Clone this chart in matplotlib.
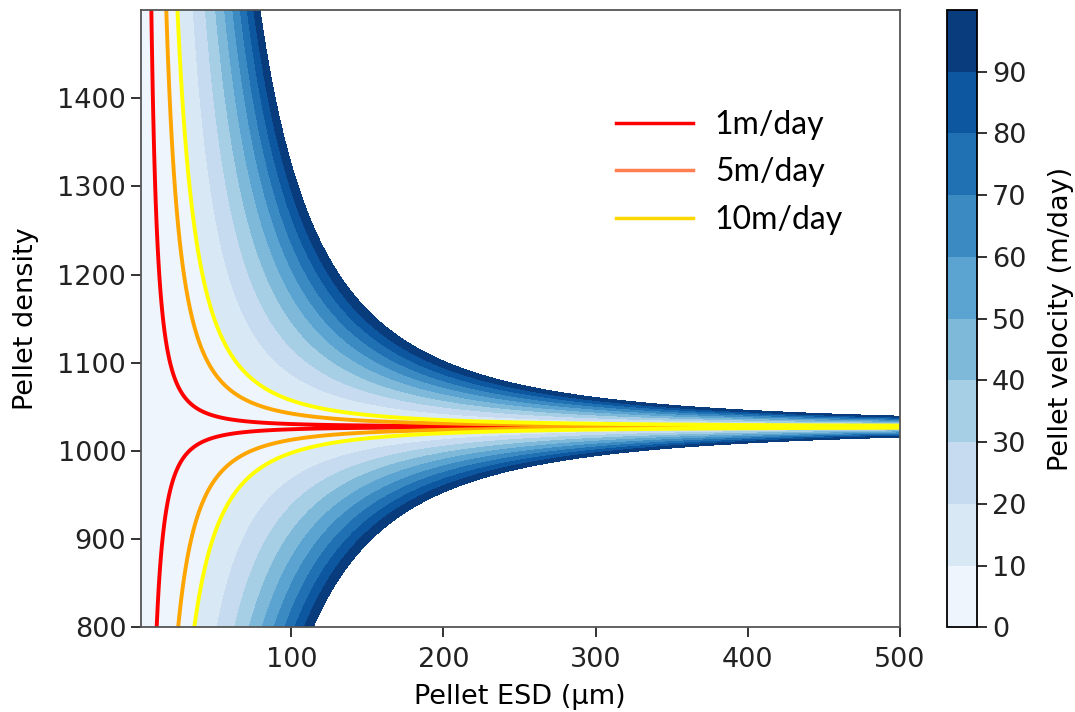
import numpy as np
import matplotlib.pyplot as plt
from matplotlib.lines import Line2D

# Stokes settling: pellet ESD vs density
esd_um = np.linspace(1, 500, 600)          # pellet ESD (µm)
density = np.linspace(800, 1500, 700)      # pellet density (kg/m3)
rho_sw = 1027.5                            # seawater density
mu = 1.4e-3                                # dynamic viscosity (Pa s)
g = 9.81

fill_levels = [0, 10, 20, 30, 40, 50, 60, 70, 80, 90, 100]
line_levels = [1, 5, 10]
line_colors = ['red', 'orange', 'yellow']
legend_labels = ['1m/day', '5m/day', '10m/day']
legend_colors = ['red', '#ff7f50', '#ffd700']

D, R = np.meshgrid(esd_um * 1e-6, density)
vel = np.abs(g * (R - rho_sw) * D ** 2 / (18 * mu)) * 86400  # m/day

fs = 19.5
fig = plt.figure(figsize=(10.75, 7.12), dpi=100)
ax = fig.add_axes([0.131, 0.119, 0.706, 0.867])
cax = fig.add_axes([0.881, 0.119, 0.028, 0.867])

cf = ax.contourf(esd_um, density, vel, levels=fill_levels, cmap='Blues')
ax.contour(esd_um, density, vel, levels=line_levels, colors=line_colors, linewidths=2.8)

ax.set_xlim(1, 500)
ax.set_ylim(800, 1500)
ax.set_xticks([100, 200, 300, 400, 500])
ax.set_yticks([800, 900, 1000, 1100, 1200, 1300, 1400])
ax.tick_params(labelsize=fs, length=7, width=1.3, colors='#222222')
ax.tick_params(axis='x', pad=7)
for s in ax.spines.values():
    s.set_linewidth(1.3)
    s.set_color('#555555')
ax.set_xlabel('Pellet ESD (µm)', fontsize=fs, labelpad=8)
ax.set_ylabel('Pellet density', fontsize=fs, labelpad=13)

cb = fig.colorbar(cf, cax=cax)
cb.set_ticks([0, 10, 20, 30, 40, 50, 60, 70, 80, 90])
cb.ax.tick_params(labelsize=fs, length=7, width=1.3, colors='#222222')
cb.outline.set_linewidth(1.3)
cb.set_label('Pellet velocity (m/day)', fontsize=fs, labelpad=16)

handles = [Line2D([0], [0], color=c, lw=2.5) for c in legend_colors]
ax.legend(handles, legend_labels, loc='upper left', bbox_to_anchor=(0.588, 0.885),
          frameon=False, prop={'family': 'Lato', 'size': 23},
          handlelength=2.4, handletextpad=0.7, labelspacing=0.55)

fig.savefig('out.png', dpi=100)
